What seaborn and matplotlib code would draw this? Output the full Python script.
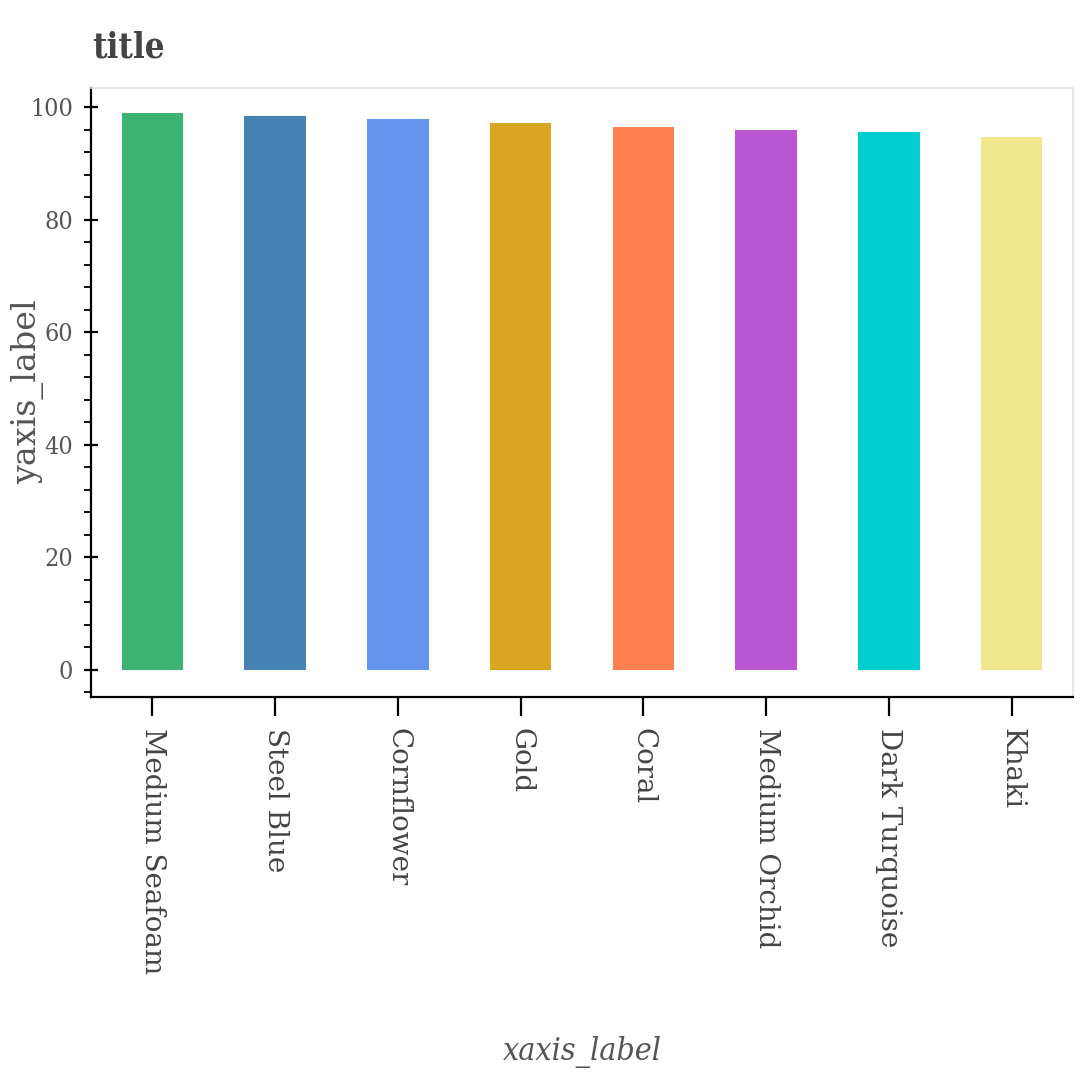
import matplotlib
matplotlib.use("Agg")
import matplotlib.pyplot as plt
from matplotlib.ticker import MultipleLocator
from matplotlib import font_manager as fm
import seaborn as sns
import pandas as pd

categories = ["Medium Seafoam", "Steel Blue", "Cornflower", "Gold", "Coral",
              "Medium Orchid", "Dark Turquoise", "Khaki"]
values = [98.9, 98.4, 97.9, 97.1, 96.5, 96.0, 95.5, 94.7]
colors = ["#3CB371", "#4682B4", "#6495ED", "#DAA520", "#FF7F50",
          "#BA55D3", "#00CED1", "#F0E68C"]
title_text = "title"
xlabel_text = "xaxis_label"
ylabel_text = "yaxis_label"

sns.set_theme(style="white")

has_cond = any(f.name == "DejaVu Serif" and str(f.stretch) in ("condensed", "semi-condensed", "600", "semicondensed")
               for f in fm.fontManager.ttflist)
if has_cond:
    hfont = dict(family="DejaVu Serif", stretch="condensed")
else:
    hfont = dict(family="Liberation Serif")
rfont = dict(family="DejaVu Serif")

df = pd.DataFrame({"cat": categories, "val": values})

fig = plt.figure(figsize=(10.8, 10.8), dpi=100)
ax = fig.add_axes([91/1080, 1 - 697/1080, (1073 - 91)/1080, (697 - 88)/1080])

sns.barplot(data=df, x="cat", y="val", hue="cat", palette=colors, order=categories,
            hue_order=categories, legend=False, width=0.5, saturation=1.0, ax=ax,
            linewidth=0)

ax.set_xlim(-0.5, 7.5)
ax.set_ylim(-4.8, 103.4)

ax.yaxis.set_major_locator(MultipleLocator(20))
ax.yaxis.set_minor_locator(MultipleLocator(4))

for s in ["top", "right"]:
    ax.spines[s].set_color("#e3e3e3")
    ax.spines[s].set_linewidth(1.2)
for s in ["left", "bottom"]:
    ax.spines[s].set_color("black")
    ax.spines[s].set_linewidth(1.6)

ax.tick_params(axis="y", which="major", direction="inout", length=10, width=1.6,
               color="black", left=True, pad=8)
ax.tick_params(axis="y", which="minor", direction="out", length=5, width=1.3,
               color="black", left=True)
ax.tick_params(axis="x", which="major", direction="out", length=14, width=1.6,
               color="black", bottom=True, pad=8)

ax.set_yticks([0, 20, 40, 60, 80, 100])
ax.set_yticklabels(["0", "20", "40", "60", "80", "100"], fontsize=18, color="#555555", **hfont)
ax.set_xticks(range(len(categories)))
ax.set_xticklabels(categories, rotation=270, fontsize=20, color="#444444",
                   ha="center", va="top", rotation_mode="default", **rfont)

ax.set_xlabel("")
ax.set_ylabel("")
fig.text(28/1080, 1 - 392/1080, ylabel_text, rotation=90, ha="center", va="center",
         fontsize=24, color="#555555", **rfont)
fig.text(582/1080, 1 - 1052/1080, xlabel_text, ha="center", va="center",
         fontsize=23, color="#555555", style="italic", **hfont)
fig.text(92/1080, 1 - 47/1080, title_text, ha="left", va="center",
         fontsize=25, color="#444444", weight="bold", **hfont)

fig.savefig("out.png", dpi=100, facecolor="white")
